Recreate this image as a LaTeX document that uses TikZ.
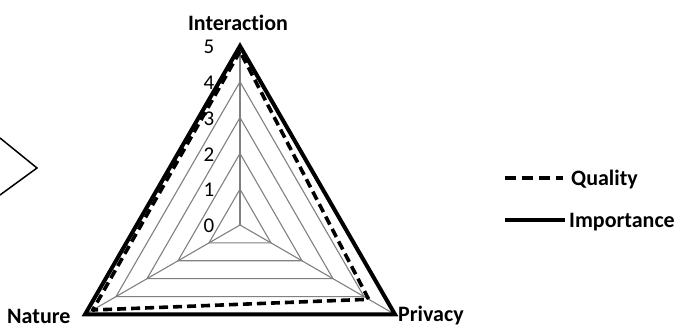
\documentclass[tikz,border=0pt]{standalone}
\usepackage{fontspec}
\setmainfont{Carlito}[Ligatures=NoCommon]
\usetikzlibrary{calc}
\begin{document}
\begin{tikzpicture}[x=1pt,y=1pt,
  grid/.style={draw=black!50,line width=1.1pt},
  imp/.style={draw=black,line width=4pt,line join=miter},
  qual/.style={draw=black,line width=3.6pt,dash pattern=on 9pt off 5pt,line join=round},
  lbl/.style={font=\bfseries\fontsize{22}{24}\selectfont,inner sep=0pt},
  num/.style={font=\fontsize{21}{23}\selectfont,inner sep=0pt}]
\useasboundingbox (0,0) rectangle (685,-328);
\coordinate (C) at (240,-225);
\def\U{35.8}
% grid rings
\foreach \r in {1,...,5}{
  \draw[grid] ($(C)+(90:\r*\U)$) -- ($(C)+(210:\r*\U)$) -- ($(C)+(330:\r*\U)$) -- cycle;
}
\foreach \a in {90,210,330}{
  \draw[grid] (C) -- ($(C)+(\a:5*\U)$);
}
% data
\draw[qual] ($(C)+(90:4.85*\U)$) -- ($(C)+(210:4.75*\U)$) -- ($(C)+(330:4.15*\U)$) -- cycle;
\draw[imp] ($(C)+(90:5*\U)$) -- ($(C)+(210:5*\U)$) -- ($(C)+(330:5*\U)$) -- cycle;
% axis labels
\foreach \v in {0,...,5}{
  \node[num] (n\v) at ($(209,-226)+(0,\v*\U)$) {\v};
}
\node[lbl] (inter) at (238,-23) {Interaction};
\node[lbl,anchor=west] (nat) at (7,-316) {Nature};
\node[lbl,anchor=west] (priv) at (398,-316) {Privacy};
% legend
\coordinate (q1) at (505,-178);
\coordinate (q2) at (563,-178);
\coordinate (i1) at (505,-220);
\coordinate (i2) at (565,-220);
\draw[draw=black,line width=3.6pt,dash pattern=on 11pt off 6pt] (q1) -- (q2);
\draw[draw=black,line width=4pt] (i1) -- (i2);
\node[lbl,anchor=west] (ql) at (571,-180) {Quality};
\node[lbl,anchor=west] (il) at (569,-222) {Importance};
% partial shape at left
\coordinate (s1) at (0,-138);
\coordinate (s2) at (37,-168);
\coordinate (s3) at (0,-195);
\draw[line width=1.5pt] (s1) -- (s2) -- (s3);
\end{tikzpicture}
\end{document}
